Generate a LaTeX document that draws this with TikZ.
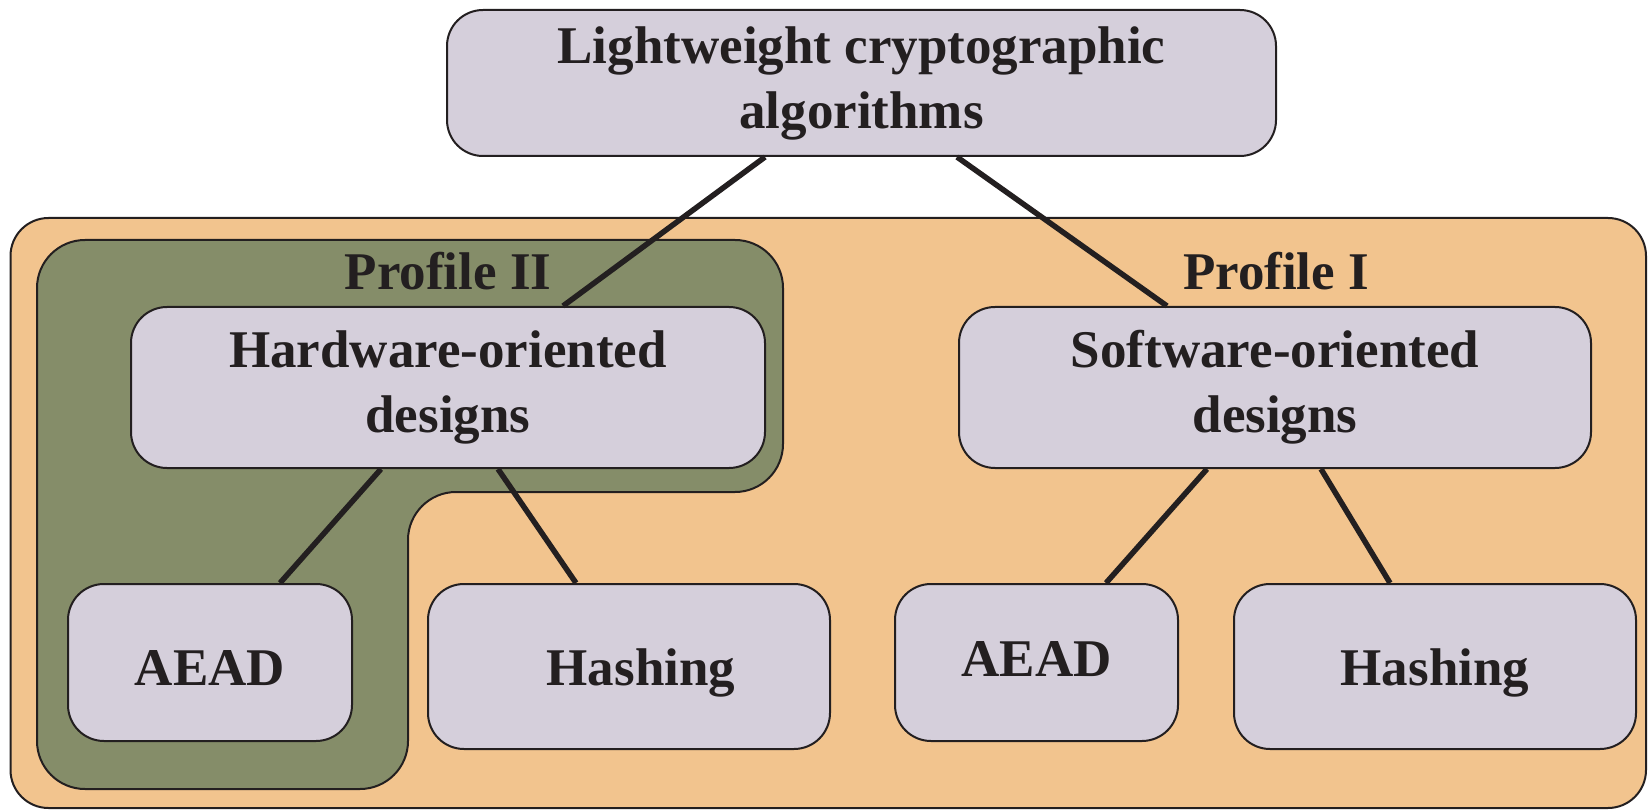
\documentclass[tikz,border=0pt]{standalone}
\usepackage{fontspec}
\setmainfont{Liberation Serif}
\definecolor{orangebg}{HTML}{F2C48E}
\definecolor{greenbg}{HTML}{858D69}
\definecolor{boxfill}{HTML}{D5CFDB}
\definecolor{inkc}{HTML}{231F20}
\begin{document}
\begin{tikzpicture}[x=1pt,y=-1pt,
  every node/.style={text=inkc},
  bigfont/.style={font=\bfseries\fontsize{53}{65}\selectfont},
  algbox/.style={bigfont, draw=inkc, line width=2pt, fill=boxfill,
    rounded corners=36pt, inner sep=0pt, align=center},
  region/.style={draw=inkc, line width=2pt},
  link/.style={draw=inkc, line width=5.5pt},
  proflabel/.style={bigfont, anchor=base, inner sep=0pt}]
\useasboundingbox (0,0) rectangle (1649,810);
% background regions
\path[region, fill=orangebg, rounded corners=38pt] (10.5,218) rectangle (1646,808);
\path[region, fill=greenbg, rounded corners=48pt]
  (37,240) -- (783,240) -- (783,492) -- (408,492) -- (408,789) -- (37,789) -- cycle;
% labels
\node[proflabel] (p2) at (448,290) {Profile II};
\node[proflabel] (p1) at (1276,290) {Profile I};
% boxes
\node[algbox, minimum width=829pt, minimum height=146pt] (top) at (861.5,83)
  {Lightweight cryptographic\\algorithms};
\node[algbox, minimum width=634pt, minimum height=161pt] (hw) at (448,387.5)
  {Hardware-oriented\\designs};
\node[algbox, minimum width=632pt, minimum height=161pt] (sw) at (1275,387.5)
  {Software-oriented\\designs};
\node[algbox, minimum width=284pt, minimum height=157pt, text height=45pt, text depth=0pt] (aeadL) at (210,662.5) {AEAD};
\node[algbox, minimum width=402pt, minimum height=165pt, text height=37pt, text depth=0pt] (hashL) at (629,666.5) {\hspace*{24pt}Hashing};
\node[algbox, minimum width=283pt, minimum height=157pt, text height=28pt, text depth=0pt] (aeadR) at (1036.5,662.5) {AEAD};
\node[algbox, minimum width=402pt, minimum height=165pt, text height=37pt, text depth=0pt] (hashR) at (1435,666.5) {Hashing};
% connectors
\draw[link] ([xshift=-96.5pt]top.south) -- ([xshift=115pt]hw.north);
\draw[link] ([xshift=95.5pt]top.south) -- ([xshift=-108pt]sw.north);
\draw[link] ([xshift=-67pt]hw.south) -- ([xshift=70pt]aeadL.north);
\draw[link] ([xshift=50pt]hw.south) -- ([xshift=-53pt]hashL.north);
\draw[link] ([xshift=-68pt]sw.south) -- ([xshift=69.5pt]aeadR.north);
\draw[link] ([xshift=46pt]sw.south) -- ([xshift=-45pt]hashR.north);
\end{tikzpicture}
\end{document}
